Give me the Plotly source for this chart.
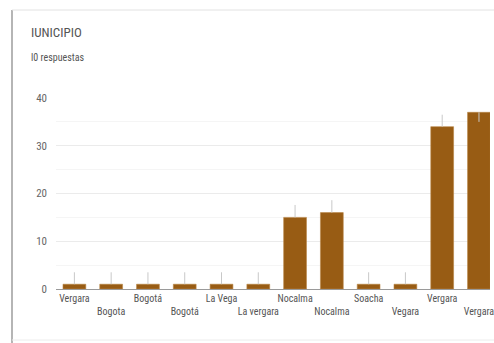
import plotly.graph_objects as go

categories = ["Vergara", "Bogota", "Bogotá", "Bogotá", "La Vega", "La vergara",
              "Nocalma", "Nocalma", "Soacha", "Vegara", "Vergara", "Vergara"]
values = [1, 1, 1, 1, 1, 1, 15, 16, 1, 1, 34, 37]
whisker_up = [2.5, 2.5, 2.5, 2.5, 2.5, 2.5, 2.6, 2.6, 2.5, 2.5, 2.5, 0]
whisker_down = [0, 0, 0, 0, 0, 0, 0, 0, 0, 0, 0, 2]
y_ticks = [0, 10, 20, 30, 40]
title_text = "IUNICIPIO"
subtitle_text = "l0 respuestas"

W, H = 494, 343
L, R, T, B = 56, 4, 98, 54
pw, ph = W - L - R, H - T - B

NARROW = "Liberation Sans Narrow, Arial Narrow, Roboto Condensed, sans-serif"

def px(x):
    return (x - L) / pw

def py(y):
    return (H - B - y) / ph

idx = list(range(len(categories)))
ticktext = [c if i % 2 == 0 else "<br>" + c for i, c in enumerate(categories)]

fig = go.Figure()
fig.add_trace(go.Bar(
    x=idx, y=values,
    marker=dict(color="#985c14", line=dict(width=0.6, color="#b88545")),
    error_y=dict(type="data", symmetric=False, array=whisker_up,
                 arrayminus=whisker_down, color="#c8c8c8",
                 thickness=1, width=0),
    width=0.62,
))

fig.update_layout(
    width=W, height=H,
    margin=dict(l=L, r=R, t=T, b=B, autoexpand=False),
    paper_bgcolor="white", plot_bgcolor="white",
    showlegend=False,
    font=dict(family=NARROW, color="#555"),
    xaxis=dict(
        range=[-0.5, 11.3], tickmode="array", tickvals=idx, ticktext=ticktext,
        tickfont=dict(size=10, color="#555", family=NARROW), showgrid=False,
        showline=True, linecolor="#9a9a9a", linewidth=1, zeroline=False,
        ticks="", tickangle=0, fixedrange=True, automargin=False,
        ticklabeloverflow="allow",
    ),
    yaxis=dict(
        range=[0, 40], tickmode="array", tickvals=y_ticks,
        tickfont=dict(size=11, color="#666", family=NARROW), showgrid=True,
        gridcolor="#ebebeb", gridwidth=1, zeroline=False, ticks="",
        ticklabelstandoff=8, automargin=False,
        minor=dict(tickmode="array", tickvals=[5, 15, 25, 35],
                   showgrid=True, gridcolor="#f5f5f5", gridwidth=1),
    ),
    annotations=[
        dict(text=title_text, x=px(29), y=py(33), xref="paper", yref="paper",
             xanchor="left", yanchor="middle", showarrow=False,
             font=dict(size=13, color="#555", family=NARROW)),
        dict(text=subtitle_text, x=px(29), y=py(57), xref="paper", yref="paper",
             xanchor="left", yanchor="middle", showarrow=False,
             font=dict(size=10, color="#555", family=NARROW)),
    ],
    shapes=[
        dict(type="line", xref="paper", yref="paper", x0=px(12), x1=px(12),
             y0=py(10), y1=py(343), line=dict(color="#b5b5b5", width=2)),
        dict(type="line", xref="paper", yref="paper", x0=px(12), x1=px(494),
             y0=py(10), y1=py(10), line=dict(color="#e2e2e2", width=1)),
        dict(type="line", xref="paper", yref="paper", x0=px(12), x1=px(494),
             y0=py(340), y1=py(340), line=dict(color="#ececec", width=1)),
    ],
)

fig.write_html("out.html")
